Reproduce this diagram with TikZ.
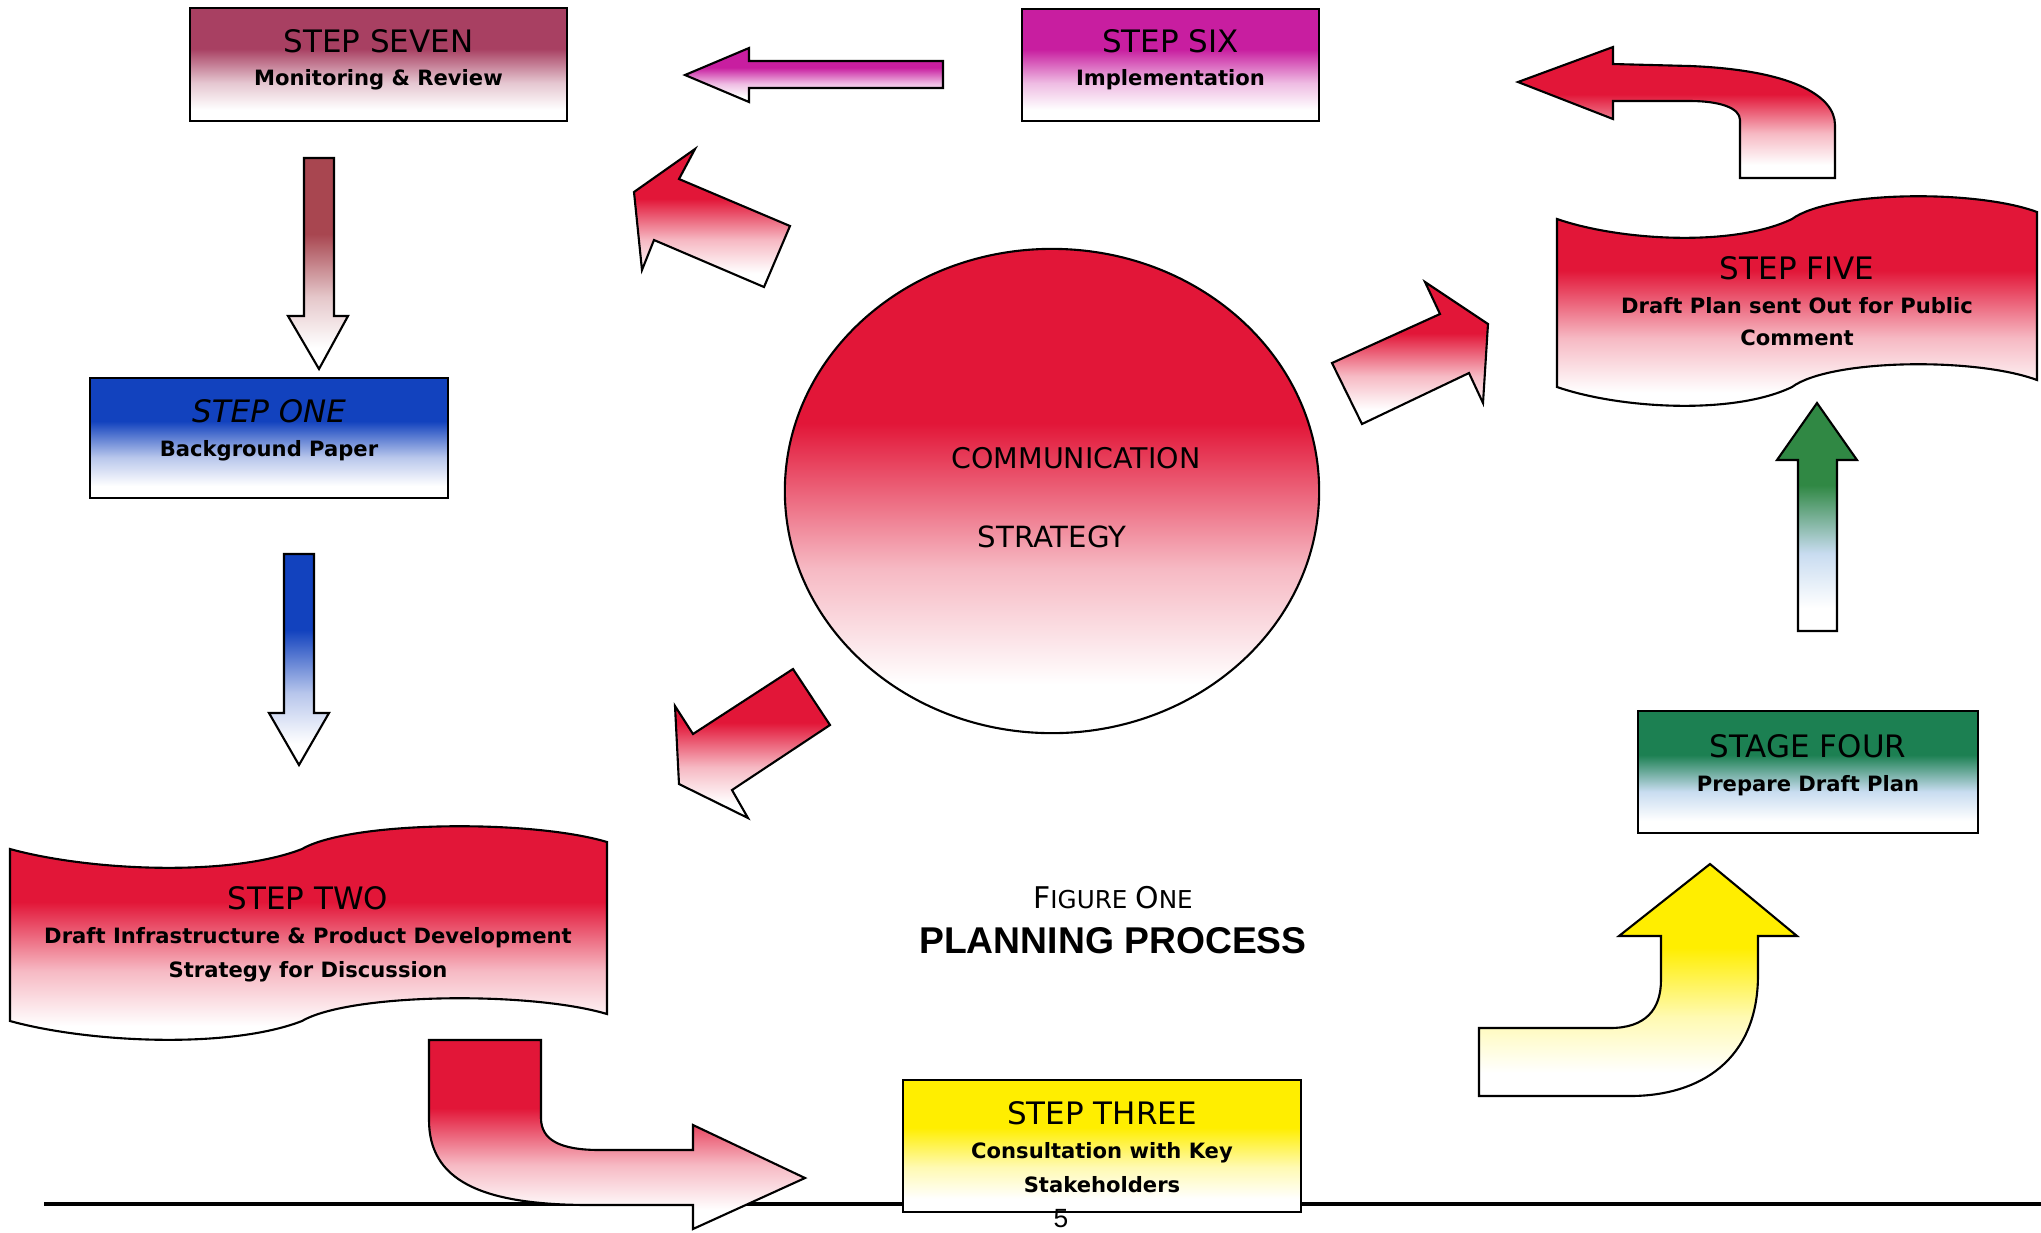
\documentclass[tikz,border=0pt]{standalone}
\usepackage{fontspec}
\setmainfont{DejaVu Sans}
\newfontfamily\arialfont{Liberation Sans}
\usepackage{tikz}
\usetikzlibrary{shapes.geometric}

\definecolor{sevencol}{RGB}{168,64,98}
\definecolor{sixcol}{RGB}{200,30,160}
\definecolor{onecol}{RGB}{18,66,190}
\definecolor{redcol}{RGB}{226,22,56}
\definecolor{threecol}{RGB}{255,238,0}
\definecolor{fourcol}{RGB}{28,128,82}
\definecolor{greenarr}{RGB}{48,136,68}
\definecolor{sevenarr}{RGB}{168,70,80}
\definecolor{paleblue}{RGB}{200,220,240}

% the path's box runs from 25bp (bottom) to 75bp (top)
\colorlet{stepcol}{red}
\colorlet{stepmid}{pink}
\pgfdeclareverticalshading[stepcol,stepmid]{stepfade}{100bp}{color(0bp)=(white); color(30bp)=(white); color(42bp)=(stepmid); color(57bp)=(stepcol); color(100bp)=(stepcol)}

\tikzset{
    grad/.style={shade, shading=stepfade, /utils/exec={\colorlet{stepcol}{#1}\colorlet{stepmid}{#1!30!white}}},
    gradmid/.style={/utils/exec={\colorlet{stepmid}{#1}}},
    stepbox/.style={draw, line width=0.6pt, inner sep=0pt},
    blockarrow/.style={draw, line width=0.6pt, line join=miter},
    steptitle/.style={anchor=base, inner sep=0pt, font=\fontsize{8.8}{10}\selectfont},
    stepsub/.style={anchor=north, inner sep=0pt, align=center, font=\fontsize{6}{9.6}\selectfont\bfseries},
}

\begin{document}
\begin{tikzpicture}[x=0.01cm, y=-0.01cm]
    \useasboundingbox (0,0) rectangle (2041,1232);

    % page rule
    \draw[line width=1.4pt] (44,1204) -- (2041,1204);

    % Steps
    \node[stepbox, grad=sevencol, minimum width=3.77cm, minimum height=1.13cm] (seven) at (378.5,64.5) {};
    \node[stepbox, grad=sixcol, minimum width=2.97cm, minimum height=1.12cm] (six) at (1170.5,65) {};
    \node[stepbox, grad=onecol, minimum width=3.58cm, minimum height=1.20cm] (one) at (269,438) {};
    \node[stepbox, grad=threecol, minimum width=3.98cm, minimum height=1.32cm] (three) at (1102,1146) {};
    \node[stepbox, grad=fourcol, gradmid=paleblue, minimum width=3.40cm, minimum height=1.22cm] (four) at (1808,772) {};
    \node[draw, ellipse, line width=0.6pt, inner sep=0pt, grad=redcol, minimum width=5.34cm, minimum height=4.84cm] (comm) at (1052,491) {};

    % Wave boxes
    \draw[blockarrow, grad=redcol] (10,849) .. controls (90,871) and (230,877) .. (302,849)
        .. controls (350,821) and (530,819) .. (607,842) -- (607,1014)
        .. controls (530,991) and (350,993) .. (302,1021)
        .. controls (230,1049) and (90,1043) .. (10,1021) -- cycle;
    \draw[blockarrow, grad=redcol] (1557,219) .. controls (1621,241) and (1734,247) .. (1792,219)
        .. controls (1830,191) and (1975,189) .. (2037,212) -- (2037,380)
        .. controls (1975,357) and (1830,359) .. (1792,387)
        .. controls (1734,415) and (1621,409) .. (1557,387) -- cycle;

    % Block arrows
    \draw[blockarrow, grad=sixcol] (943,61) -- (749,61) -- (749,48) -- (685,75) -- (749,102) -- (749,88) -- (943,88) -- cycle;
    \draw[blockarrow, grad=sevenarr] (304,158) -- (334,158) -- (334,316) -- (348,316) -- (319,369) -- (288,316) -- (304,316) -- cycle;
    \draw[blockarrow, grad=onecol] (284,554) -- (314,554) -- (314,713) -- (329,713) -- (299,765) -- (269,713) -- (284,713) -- cycle;
    \draw[blockarrow, grad=redcol] (429,1040) -- (541,1040) -- (541,1118) .. controls (541,1140) and (560,1150) .. (600,1150)
        -- (693,1150) -- (693,1125) -- (805,1178) -- (693,1229) -- (693,1205) -- (590,1205)
        .. controls (480,1205) and (429,1180) .. (429,1120) -- cycle;
    \draw[blockarrow, grad=threecol] (1479,1028) -- (1610,1028) .. controls (1645,1028) and (1661,1010) .. (1661,980)
        -- (1661,936) -- (1619,936) -- (1710,864) -- (1797,936) -- (1758,936) -- (1758,975)
        .. controls (1758,1060) and (1700,1096) .. (1630,1096) -- (1479,1096) -- cycle;
    \draw[blockarrow, grad=greenarr, gradmid=paleblue] (1798,631) -- (1798,460) -- (1777,460) -- (1817,403) -- (1857,460) -- (1837,460) -- (1837,631) -- cycle;
    \draw[blockarrow, grad=redcol] (1740,178) -- (1740,120) .. controls (1740,108) and (1720,101) .. (1690,101)
        -- (1613,101) -- (1613,119) -- (1518,82) -- (1613,47) -- (1613,64) -- (1690,66)
        .. controls (1790,70) and (1835,95) .. (1835,125) -- (1835,178) -- cycle;
    \draw[blockarrow, grad=redcol] (1332,363) -- (1440,314) -- (1425,282) -- (1488,324) -- (1483,403) -- (1469,373) -- (1362,424) -- cycle;
    \draw[blockarrow, grad=redcol] (695,149) -- (679,179) -- (790,226) -- (764,287) -- (654,240) -- (642,270) -- (634,192) -- cycle;
    \draw[blockarrow, grad=redcol] (793,669) -- (830,725) -- (732,790) -- (748,818) -- (679,784) -- (675,706) -- (693,734) -- cycle;

    % Texts
    \node[steptitle] (seven-t) at (378.5,52) {STEP SEVEN};
    \node[stepsub] (seven-s) at (378.5,68.5) {Monitoring \& Review};
    \node[steptitle] (six-t) at (1170.5,52) {STEP SIX};
    \node[stepsub] (six-s) at (1170.5,68.5) {Implementation};
    \node[steptitle, font=\fontsize{8.8}{10}\selectfont\itshape] (one-t) at (269,422) {STEP ONE};
    \node[stepsub] (one-s) at (269,439.5) {Background Paper};
    \node[steptitle] (two-t) at (308,909) {STEP TWO};
    \node[stepsub] (two-s) at (308,926.5) {Draft Infrastructure \& Product Development\\Strategy for Discussion};
    \node[steptitle] (three-t) at (1102,1124) {STEP THREE};
    \node[stepsub] (three-s) at (1102,1141.5) {Consultation with Key\\Stakeholders};
    \node[steptitle] (four-t) at (1808,757) {STAGE FOUR};
    \node[stepsub] (four-s) at (1808,774.5) {Prepare Draft Plan};
    \node[steptitle] (five-t) at (1797,279) {STEP FIVE};
    \node[stepsub, font=\fontsize{6}{9.1}\selectfont\bfseries] (five-s) at (1797,296.5) {Draft Plan sent Out for Public\\Comment};

    \node[steptitle, font=\fontsize{8.1}{10}\selectfont] (comm-a) at (1076,468) {COMMUNICATION};
    \node[steptitle, font=\fontsize{8.3}{10}\selectfont] (comm-b) at (1052,547) {STRATEGY};

    \node[anchor=base, inner sep=0pt] (fig-a) at (1113,908) {\fontsize{8.5}{10}\selectfont F\fontsize{7}{10}\selectfont IGURE \fontsize{8.5}{10}\selectfont O\fontsize{7}{10}\selectfont NE};
    \node[anchor=base, inner sep=0pt, font=\arialfont\bfseries\fontsize{10.6}{12}\selectfont] (fig-b) at (1113,953.5) {PLANNING PROCESS};
    \node[anchor=north, inner sep=0pt, font=\arialfont\fontsize{7.5}{9}\selectfont] (page) at (1061,1209) {5};
\end{tikzpicture}
\end{document}
